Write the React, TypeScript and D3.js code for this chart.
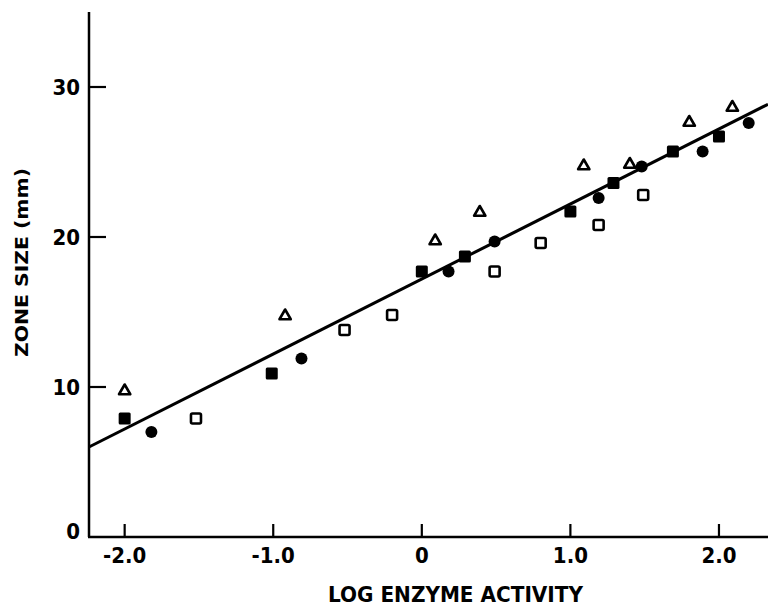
import React, { useEffect, useRef } from 'react'
import * as d3 from "d3";

// open triangles
const triX = [-2.0, -0.92, 0.09, 0.39, 1.09, 1.4, 1.8, 2.09];
const triY = [9.8, 14.8, 19.8, 21.7, 24.8, 24.9, 27.7, 28.7];

// filled squares
const sqX = [-2.0, -1.01, 0.0, 0.29, 1.0, 1.29, 1.69, 2.0];
const sqY = [7.9, 10.9, 17.7, 18.7, 21.7, 23.6, 25.7, 26.7];

// filled circles
const dotX = [-1.82, -0.81, 0.18, 0.49, 1.19, 1.48, 1.89, 2.2];
const dotY = [7.0, 11.9, 17.7, 19.7, 22.6, 24.7, 25.7, 27.6];

// open squares
const boxX = [-1.52, -0.52, -0.2, 0.49, 0.8, 1.19, 1.49];
const boxY = [7.9, 13.8, 14.8, 17.7, 19.6, 20.8, 22.8];

// fitted line
const fitX = [-2.24, 2.33];
const fitY = [6.0, 28.85];

const xTicks = [-2, -1, 0, 1, 2];
const xTickLabels = ["-2.0", "-1.0", "0", "1.0", "2.0"];
const yTicks = [0, 10, 20, 30];

const App = () => {
  const svgRef = useRef(null);
  const width = 768;
  const height = 608;

  useEffect(() => {
    const svg = d3.select(svgRef.current);
    svg.selectAll("*").remove();

    const x = d3.scaleLinear().domain([-2.24, 2.33]).range([89, 768]);
    const y = d3.scaleLinear().domain([0, 35]).range([537, 12]);
    const ink = "#000";
    const font = "'DejaVu Sans Condensed', 'DejaVu Sans', sans-serif";

    // axes lines
    svg.append("line")
      .attr("x1", x(-2.24)).attr("x2", x(-2.24))
      .attr("y1", y(35)).attr("y2", y(0))
      .attr("stroke", ink).attr("stroke-width", 2.5);
    svg.append("line")
      .attr("x1", x(-2.24) - 1).attr("x2", x(2.33))
      .attr("y1", y(0)).attr("y2", y(0))
      .attr("stroke", ink).attr("stroke-width", 2.5);

    // y ticks (inside) + labels
    const yt = svg.append("g");
    yt.selectAll("line")
      .data(yTicks.filter(d => d > 0))
      .join("line")
        .attr("x1", x(-2.24)).attr("x2", x(-2.24) + 17)
        .attr("y1", d => y(d)).attr("y2", d => y(d))
        .attr("stroke", ink).attr("stroke-width", 2.2);
    yt.selectAll("text")
      .data(yTicks)
      .join("text")
        .attr("x", 80)
        .attr("y", d => (d === 0 ? y(d) - 6 : y(d)) + 8)
        .attr("text-anchor", "end")
        .attr("font-family", font)
        .attr("font-weight", "bold")
        .attr("font-size", 22)
        .attr("fill", ink)
        .text(d => d);

    // x ticks (inside) + labels
    const xt = svg.append("g");
    xt.selectAll("line")
      .data(xTicks)
      .join("line")
        .attr("x1", d => x(d)).attr("x2", d => x(d))
        .attr("y1", y(0)).attr("y2", y(0) - 13)
        .attr("stroke", ink).attr("stroke-width", 2.2);
    xt.selectAll("text")
      .data(xTicks)
      .join("text")
        .attr("x", d => x(d))
        .attr("y", 563)
        .attr("text-anchor", "middle")
        .attr("font-family", font)
        .attr("font-weight", "bold")
        .attr("font-size", 22)
        .attr("fill", ink)
        .text((d, i) => xTickLabels[i]);

    // axis titles
    svg.append("text")
      .attr("x", 328).attr("y", 602)
      .attr("font-family", font)
      .attr("font-weight", "bold")
      .attr("font-size", 21)
      .attr("textLength", 255)
      .attr("lengthAdjust", "spacingAndGlyphs")
      .attr("fill", ink)
      .text("LOG ENZYME ACTIVITY");

    svg.append("text")
      .attr("transform", "translate(28,357) rotate(-90)")
      .attr("font-family", font)
      .attr("font-weight", "bold")
      .attr("font-size", 17)
      .attr("textLength", 189)
      .attr("lengthAdjust", "spacingAndGlyphs")
      .attr("fill", ink)
      .text("ZONE SIZE (mm)");

    // regression line
    svg.append("line")
      .attr("x1", x(fitX[0])).attr("y1", y(fitY[0]))
      .attr("x2", x(fitX[1])).attr("y2", y(fitY[1]))
      .attr("stroke", ink).attr("stroke-width", 3);

    // markers
    svg.append("g").selectAll("path")
      .data(triX.map((d, i) => [d, triY[i]]))
      .join("path")
        .attr("d", d3.symbol(d3.symbolTriangle, 55))
        .attr("transform", d => `translate(${x(d[0])},${y(d[1]) + 1})`)
        .attr("fill", "#fff").attr("stroke", ink).attr("stroke-width", 2.6)
        .attr("stroke-linejoin", "round");

    svg.append("g").selectAll("rect")
      .data(boxX.map((d, i) => [d, boxY[i]]))
      .join("rect")
        .attr("x", d => x(d[0]) - 5).attr("y", d => y(d[1]) - 5)
        .attr("width", 10).attr("height", 10).attr("rx", 1.5)
        .attr("fill", "#fff").attr("stroke", ink).attr("stroke-width", 2.6);

    svg.append("g").selectAll("circle")
      .data(dotX.map((d, i) => [d, dotY[i]]))
      .join("circle")
        .attr("cx", d => x(d[0])).attr("cy", d => y(d[1]))
        .attr("r", 6)
        .attr("fill", ink);

    svg.append("g").selectAll("rect")
      .data(sqX.map((d, i) => [d, sqY[i]]))
      .join("rect")
        .attr("x", d => x(d[0]) - 6).attr("y", d => y(d[1]) - 6)
        .attr("width", 12).attr("height", 12).attr("rx", 1.5)
        .attr("fill", ink);
  }, []);

  return (
    <div style={{ position: 'absolute', left: 0, top: 0, width: width, height: height, background: '#fff' }}>
      <svg ref={svgRef} width={width} height={height} style={{ display: 'block' }}></svg>
    </div>
  )
}

export default App;
